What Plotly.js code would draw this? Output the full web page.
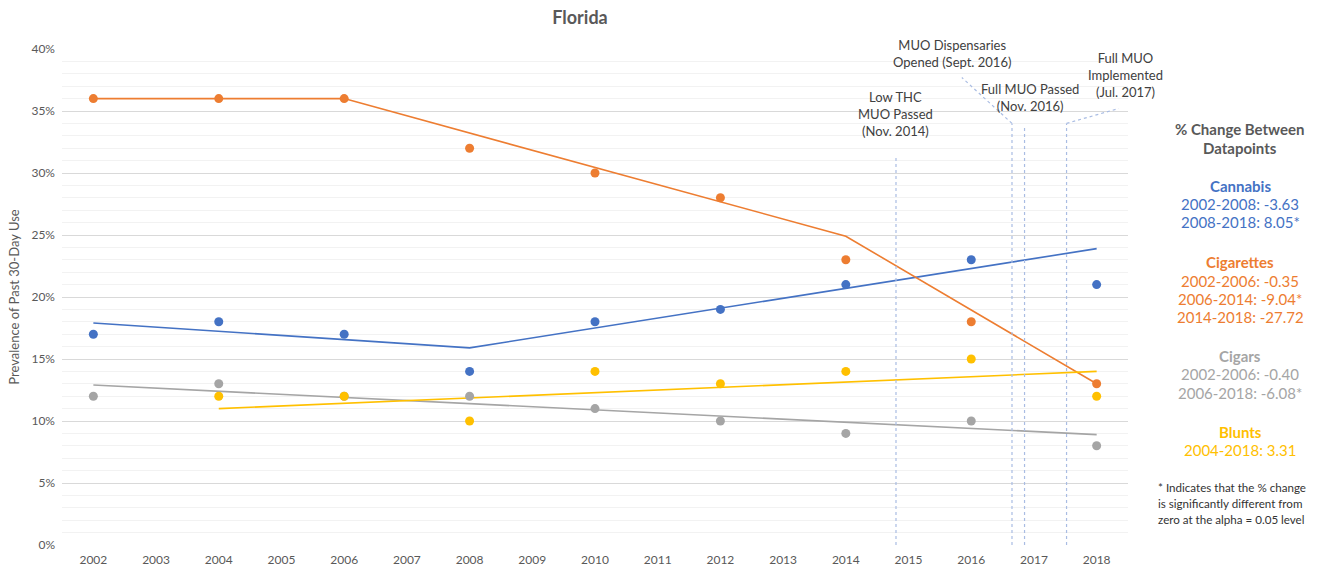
<!DOCTYPE html>
<html><head><meta charset="utf-8">
<script src="https://cdn.plot.ly/plotly-3.0.1.min.js"></script>
<style>html,body{margin:0;padding:0;background:#fff}#chart{width:1330px;height:571px}</style>
</head><body><div id="chart"></div>
<script>
// ---- data ----
const years = [2002, 2004, 2006, 2008, 2010, 2012, 2014, 2016, 2018];
const cannabis = [17, 18, 17, 14, 18, 19, 21, 23, 21];
const cigarettes = [36, 36, 36, 32, 30, 28, 23, 18, 13];
const cigars = [12, 13, 12, 12, 11, 10, 9, 10, 8];
const bluntYears = [2004, 2006, 2008, 2010, 2012, 2014, 2016, 2018];
const blunts = [12, 12, 10, 14, 13, 14, 15, 12];

const cannabisFitYears = [2002, 2008, 2018];
const cannabisFit = [17.9, 15.9, 23.9];
const cigFitYears = [2002, 2006, 2014, 2018];
const cigFit = [36, 36, 24.9, 13];
const cigarFitYears = [2002, 2006, 2018];
const cigarFit = [12.9, 11.9, 8.9];
const bluntFitYears = [2004, 2018];
const bluntFit = [11, 14];

const xTicks = [2002,2003,2004,2005,2006,2007,2008,2009,2010,2011,2012,2013,2014,2015,2016,2017,2018];
const yTicks = [0, 5, 10, 15, 20, 25, 30, 35, 40];
const yTickText = ['0%','5%','10%','15%','20%','25%','30%','35%','40%'];

const policyEvents = [2014.8, 2016.65, 2016.85, 2017.52];
const policyTops = [31.4, 34.0, 33.8, 34.0];

const colors = {cannabis:'#4472C4', cig:'#ED7D31', cigar:'#A5A5A5', blunt:'#FFC000'};

const FONT = 'Lato, "Open Sans", sans-serif';

function pts(x, y, c){ return {x:x, y:y, mode:'markers', type:'scatter', marker:{color:c, size:9}, hoverinfo:'skip', showlegend:false}; }
function fit(x, y, c){ return {x:x, y:y, mode:'lines', type:'scatter', line:{color:c, width:1.6}, hoverinfo:'skip', showlegend:false}; }

const data = [
  fit(cannabisFitYears, cannabisFit, colors.cannabis),
  fit(cigFitYears, cigFit, colors.cig),
  fit(cigarFitYears, cigarFit, colors.cigar),
  fit(bluntFitYears, bluntFit, colors.blunt),
  pts(years, cannabis, colors.cannabis),
  pts(years, cigarettes, colors.cig),
  pts(years, cigars, colors.cigar),
  pts(bluntYears, blunts, colors.blunt)
];

const dashColor = '#A9BCE3';
const shapes = policyEvents.map((e, i) => ({type:'line', xref:'x', yref:'y', x0:e, x1:e, y0:0, y1:policyTops[i], line:{color:dashColor, width:1.2, dash:'dot'}}));
shapes.push({type:'line', xref:'x', yref:'y', x0:2016.65, x1:2015.85, y0:34.0, y1:37.7, line:{color:dashColor, width:1.2, dash:'dot'}});
shapes.push({type:'line', xref:'x', yref:'y', x0:2017.52, x1:2018.35, y0:34.0, y1:35.2, line:{color:dashColor, width:1.2, dash:'dot'}});

// plot area: left 62, right edge 1128, top 49, bottom 545
function px(p){ return (p - 62) / 1066; }
function py(p){ return (545 - p) / 496; }

const annotations = [];
function txt(x, y, text, color, size, bold, align){
  annotations.push({xref:'paper', yref:'paper', x:px(x), y:py(y), text: bold ? '<b>'+text+'</b>' : text,
    showarrow:false, xanchor: align || 'center', yanchor:'middle', align: align || 'center',
    font:{family:FONT, size:size, color:color}});
}
// policy labels
txt(895, 114, 'Low THC<br>MUO Passed<br>(Nov. 2014)', '#404040', 13);
txt(952, 53, 'MUO Dispensaries<br>Opened (Sept. 2016)', '#404040', 13);
txt(1030, 97, 'Full MUO Passed<br>(Nov. 2016)', '#404040', 13);
txt(1125, 75, 'Full MUO<br>Implemented<br>(Jul. 2017)', '#404040', 13);
// side panel
txt(1240, 129, '% Change Between', '#595959', 15, true);
txt(1240, 148, 'Datapoints', '#595959', 15, true);
txt(1240, 186, 'Cannabis', colors.cannabis, 15, true);
txt(1240, 204, '2002-2008: -3.63', colors.cannabis, 15);
txt(1240, 222, '2008-2018: 8.05*', colors.cannabis, 15);
txt(1240, 262, 'Cigarettes', colors.cig, 15, true);
txt(1240, 281, '2002-2006: -0.35', colors.cig, 15);
txt(1240, 299, '2006-2014: -9.04*', colors.cig, 15);
txt(1240, 317, '2014-2018: -27.72', colors.cig, 15);
txt(1240, 356, 'Cigars', colors.cigar, 15, true);
txt(1240, 374, '2002-2006: -0.40', colors.cigar, 15);
txt(1240, 393, '2006-2018: -6.08*', colors.cigar, 15);
txt(1240, 432, 'Blunts', colors.blunt, 15, true);
txt(1240, 450, '2004-2018: 3.31', colors.blunt, 15);
txt(1156, 487, '* Indicates that the % change', '#333333', 11.6, false, 'left');
txt(1156, 503, 'is significantly different from', '#333333', 11.6, false, 'left');
txt(1156, 519, 'zero at the alpha = 0.05 level', '#333333', 11.6, false, 'left');

const layout = {
  width:1330, height:571,
  margin:{l:62, r:202, t:49, b:26},
  paper_bgcolor:'#ffffff', plot_bgcolor:'#ffffff',
  font:{family:FONT, color:'#595959', size:12},
  title:{text:'<b>Florida</b>', x:px(580), xref:'paper', xanchor:'center', y:1 - 18/571, yanchor:'middle', font:{family:FONT, size:18, color:'#595959'}},
  xaxis:{range:[2001.5, 2018.5], tickvals:xTicks, ticktext:xTicks.map(String), showgrid:false, zeroline:false,
    showline:false, ticks:'', tickfont:{size:12, color:'#595959'}, ticklabelstandoff:6, fixedrange:true},
  yaxis:{range:[0, 40], tickvals:yTicks, ticktext:yTickText, showgrid:true, gridcolor:'#D9D9D9', gridwidth:1,
    zeroline:false, showline:false, ticks:'', tickfont:{size:12, color:'#595959'}, ticklabelstandoff:6,
    minor:{dtick:1, showgrid:true, gridcolor:'#F2F2F2', gridwidth:1},
    title:{text:'Prevalence of Past 30-Day Use', font:{size:13, color:'#595959'}, standoff:8}, fixedrange:true},
  shapes:shapes,
  annotations:annotations,
  hovermode:false, showlegend:false
};
Plotly.newPlot('chart', data, layout, {staticPlot:true, displayModeBar:false});
</script></body></html>
